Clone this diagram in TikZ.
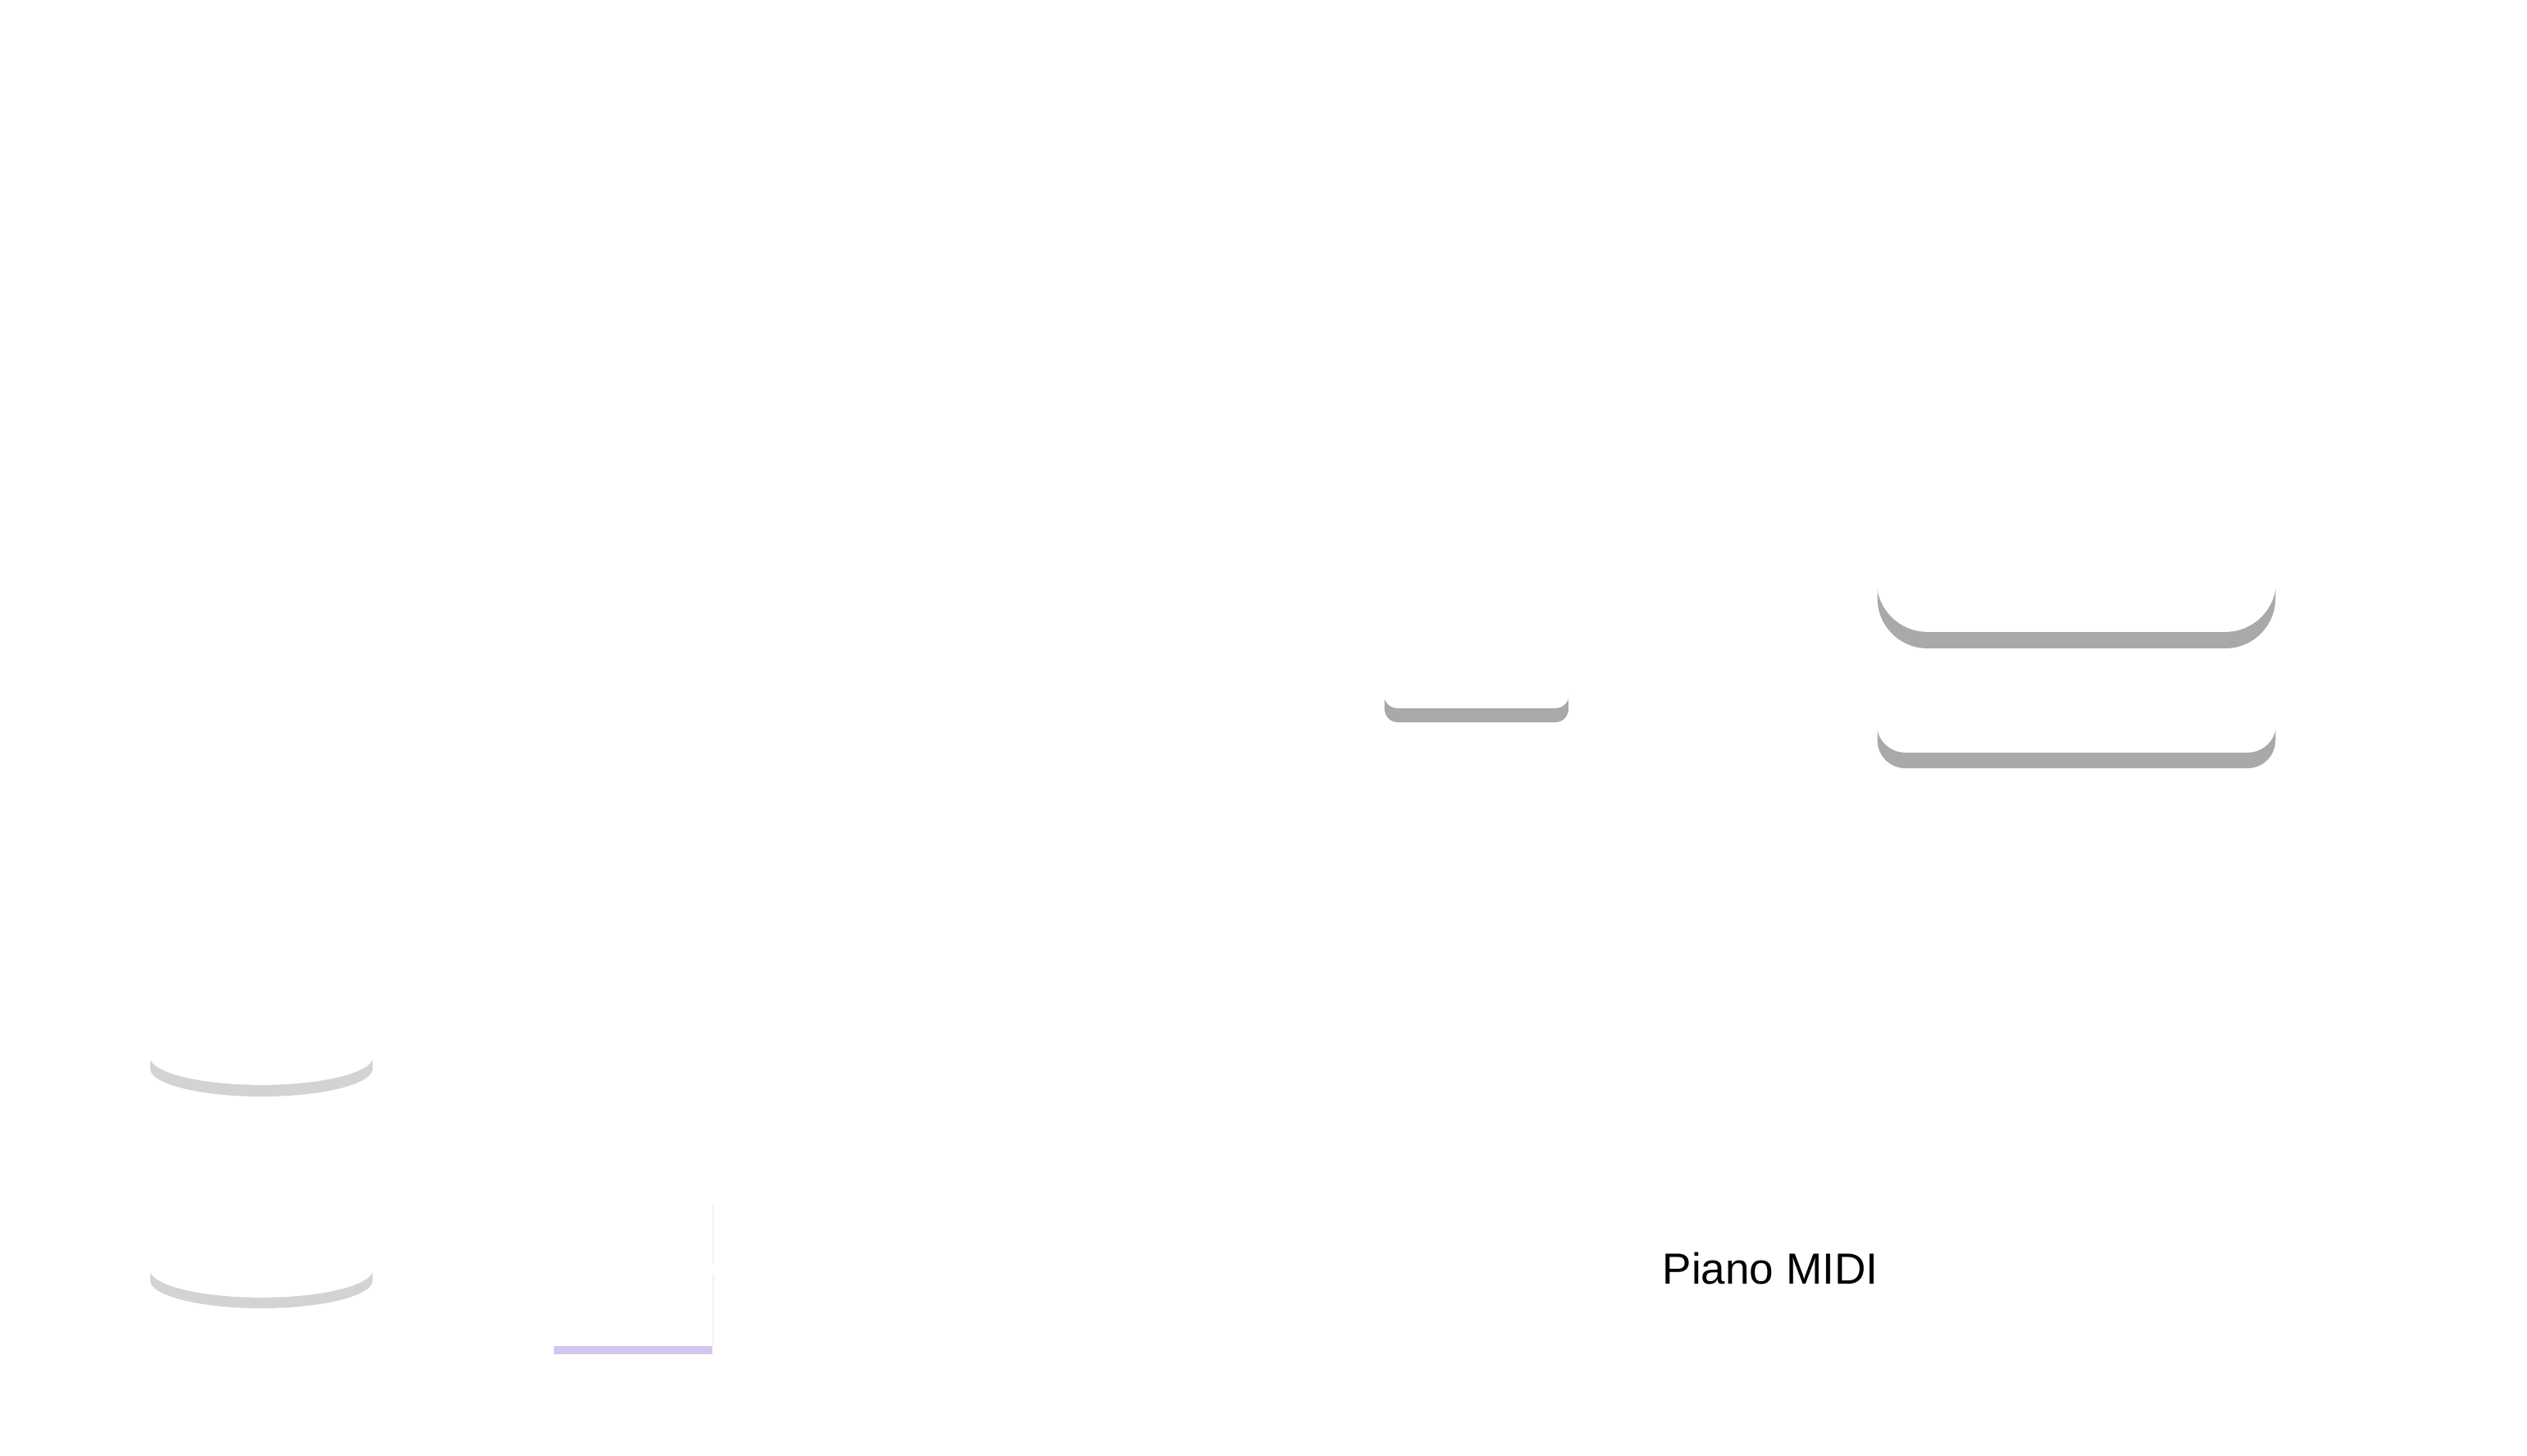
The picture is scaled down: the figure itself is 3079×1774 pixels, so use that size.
\documentclass[tikz,border=0pt]{standalone}
\usepackage{fontspec}
\setmainfont{Liberation Sans}
\usetikzlibrary{shadows}

\definecolor{boxshade}{HTML}{A9A9A9}
\definecolor{cylshade}{HTML}{D3D3D3}
\definecolor{barlilac}{HTML}{D4C5EC}

\tikzset{
  shadowbox/.style 2 args={rectangle, fill=white, draw=white, line width=0.5pt, rounded corners=#1,
    inner sep=0pt, general shadow={fill=boxshade, draw=none, shadow xshift=0pt, shadow yshift=-#2}},
  label/.style={font=\fontsize{15.1}{18}\selectfont, inner sep=0pt}
}

\begin{document}
\begin{tikzpicture}[x=0.1mm, y=-0.1mm]
  \useasboundingbox[fill=white] (0,0) rectangle (3079,1774);

  % rounded boxes
  \node[shadowbox={1.6mm}{1.8mm}, minimum width=22.4mm, minimum height=8mm](Small) at (1799,822) {};
  \node[shadowbox={3.4mm}{2mm}, minimum width=48.5mm, minimum height=11mm](Lower) at (2530,861) {};
  \node[shadowbox={6.1mm}{2.1mm}, minimum width=48.5mm, minimum height=28mm](Upper) at (2530,629) {};

  % lower store
  \fill[cylshade] (183,1383) rectangle (454,1560);
  \fill[cylshade] (318.5,1560) ellipse [x radius=13.55mm, y radius=3.4mm];
  \fill[white, draw=white, line width=0.5pt] (183,1370) rectangle (454,1546);
  \fill[white, draw=white, line width=0.5pt] (318.5,1546) ellipse [x radius=13.55mm, y radius=3.4mm];
  \fill[white] (318.5,1370) ellipse [x radius=13.55mm, y radius=3.4mm];

  % upper store
  \fill[cylshade] (183,1115) rectangle (454,1302);
  \fill[cylshade] (318.5,1302) ellipse [x radius=13.55mm, y radius=3.4mm];
  \fill[white, draw=white, line width=0.5pt] (183,1100) rectangle (454,1287);
  \fill[white, draw=white, line width=0.5pt] (318.5,1287) ellipse [x radius=13.55mm, y radius=3.4mm];
  \fill[white] (318.5,1100) ellipse [x radius=13.55mm, y radius=3.4mm];

  % card
  \fill[barlilac] (675,1640) rectangle (868,1650);
  \draw[black!5, line width=0.2mm] (869,1467) -- (869,1540);
  \draw[black!5, line width=0.2mm] (869,1552) -- (869,1640);

  \node[label, anchor=base](Piano) at (2157,1564) {Piano MIDI};
\end{tikzpicture}
\end{document}
